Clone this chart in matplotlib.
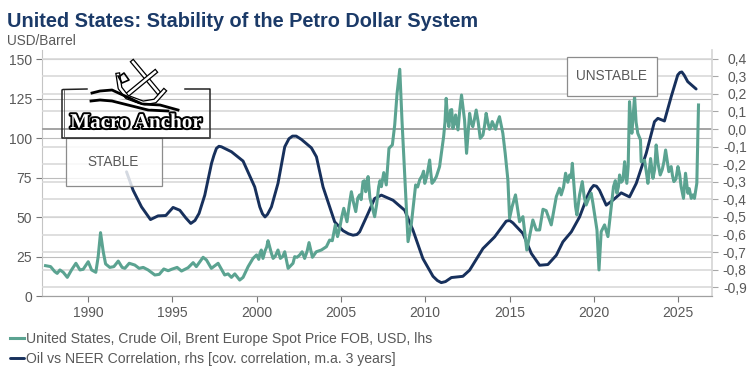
import matplotlib
matplotlib.use('Agg')
import matplotlib.pyplot as plt
import matplotlib.patheffects as pe
from matplotlib.patches import Rectangle

plt.rcParams['font.family'] = ['Liberation Sans', 'DejaVu Sans']

title = 'United States: Stability of the Petro Dollar System'
unit_label = 'USD/Barrel'
oil_label = 'United States, Crude Oil, Brent Europe Spot Price FOB, USD, lhs'
corr_label = 'Oil vs NEER Correlation, rhs [cov. correlation, m.a. 3 years]'

x_ticks = [1990, 1995, 2000, 2005, 2010, 2015, 2020, 2025]
left_ticks = [0, 25, 50, 75, 100, 125, 150]
right_ticks = [-0.9, -0.8, -0.7, -0.6, -0.5, -0.4, -0.3, -0.2, -0.1, 0.0, 0.1, 0.2, 0.3, 0.4]
right_labels = ['-0,9', '-0,8', '-0,7', '-0,6', '-0,5', '-0,4', '-0,3', '-0,2', '-0,1', '0,0', '0,1', '0,2', '0,3', '0,4']

# brent
oil_years = [1987.49, 1987.79, 1988.04, 1988.18, 1988.34, 1988.54, 1988.78, 1989.03, 1989.29, 1989.53,
             1989.72, 1990.02, 1990.22, 1990.47, 1990.61, 1990.75, 1990.91, 1991.05, 1991.30, 1991.54,
             1991.80, 1992.03, 1992.19, 1992.45, 1992.78, 1993.04, 1993.28, 1993.57, 1993.97, 1994.23,
             1994.50, 1994.76, 1994.96, 1995.29, 1995.55, 1995.94, 1996.24, 1996.43, 1996.83, 1997.03,
             1997.32, 1997.72, 1998.11, 1998.31, 1998.51, 1998.71, 1999.00, 1999.20, 1999.50, 1999.79,
             2000.00, 2000.13, 2000.28, 2000.38, 2000.68, 2000.88, 2000.98, 2001.27, 2001.41, 2001.67,
             2001.87, 2002.16, 2002.26, 2002.56, 2002.85, 2003.11, 2003.31, 2003.54, 2003.84, 2004.14,
             2004.33, 2004.49, 2004.67, 2004.80, 2004.93, 2005.17, 2005.36, 2005.62, 2005.88, 2006.11,
             2006.31, 2006.47, 2006.61, 2006.85, 2007.00, 2007.24, 2007.40, 2007.54, 2007.69, 2007.85,
             2008.05, 2008.19, 2008.33, 2008.49, 2008.62, 2008.78, 2008.98, 2009.18, 2009.43, 2009.67,
             2009.83, 2009.97, 2010.26, 2010.40, 2010.66, 2010.85, 2011.09, 2011.24, 2011.40, 2011.50,
             2011.64, 2011.80, 2011.94, 2012.15, 2012.33, 2012.45, 2012.63, 2012.82, 2013.02, 2013.26,
             2013.42, 2013.61, 2013.81, 2013.97, 2014.17, 2014.40, 2014.60, 2014.74, 2014.90, 2015.00,
             2015.15, 2015.35, 2015.59, 2015.79, 2016.02, 2016.38, 2016.58, 2016.78, 2016.98, 2017.17,
             2017.47, 2017.77, 2017.96, 2018.06, 2018.32, 2018.56, 2018.72, 2018.91, 2018.99, 2019.31,
             2019.54, 2019.84, 2019.94, 2020.18, 2020.30, 2020.43, 2020.63, 2020.83, 2021.03, 2021.16,
             2021.36, 2021.52, 2021.72, 2021.82, 2021.95, 2022.11, 2022.25, 2022.41, 2022.60, 2022.76,
             2022.80, 2023.00, 2023.20, 2023.36, 2023.50, 2023.69, 2023.93, 2024.25, 2024.44, 2024.58,
             2024.74, 2024.98, 2025.17, 2025.31, 2025.43, 2025.57, 2025.77, 2025.96, 2026.10, 2026.20]
oil_values = [19.2, 18.6, 15.4, 14.3, 16.5, 15.0, 11.8, 16.5, 20.7, 16.5,
              16.9, 21.7, 16.5, 15.0, 24.9, 40.1, 28.0, 20.3, 18.1, 18.6,
              22.1, 18.1, 17.5, 20.7, 19.6, 17.5, 18.1, 16.5, 13.3, 13.7,
              17.1, 16.0, 16.9, 18.1, 15.8, 17.9, 21.1, 18.6, 24.5, 22.8,
              17.5, 20.7, 13.3, 14.0, 11.8, 14.0, 10.1, 11.8, 18.6, 23.8,
              26.0, 23.2, 29.1, 23.8, 35.0, 27.0, 23.8, 29.1, 23.8, 28.0,
              17.5, 20.7, 24.9, 26.0, 23.8, 33.8, 24.5, 28.0, 29.1, 31.2,
              35.4, 35.0, 45.0, 37.6, 42.9, 55.5, 47.0, 66.0, 53.4, 64.0,
              72.4, 66.0, 75.6, 56.6, 50.2, 69.2, 69.2, 78.1, 70.3, 93.5,
              95.6, 108.3, 128.3, 143.5, 111.4, 77.7, 34.4, 46.0, 70.3, 73.5,
              76.6, 71.3, 86.1, 71.3, 75.6, 81.9, 100.9, 125.1, 107.2, 117.7,
              106.1, 114.6, 105.1, 127.2, 111.4, 90.3, 115.6, 107.2, 117.7, 99.8,
              101.9, 115.6, 105.5, 110.4, 105.5, 113.5, 103.0, 90.3, 73.4, 49.2,
              56.6, 64.0, 47.0, 50.2, 29.1, 48.1, 41.8, 41.8, 54.9, 54.0,
              45.0, 62.9, 68.2, 64.0, 77.7, 76.6, 84.0, 56.6, 51.3, 72.4,
              57.6, 65.0, 58.7, 41.8, 16.5, 40.7, 45.0, 37.6, 56.6, 69.2,
              65.0, 76.6, 73.4, 85.0, 71.3, 123.0, 103.0, 126.2, 103.0, 98.8,
              85.0, 86.0, 71.3, 87.0, 74.5, 95.6, 76.6, 92.4, 78.7, 81.9,
              72.4, 81.9, 69.2, 61.8, 77.7, 65.0, 61.8, 61.8, 71.3, 120.9]

# smaller swings between the turning points above
oil_extra_years = [2000.20, 2000.50, 2000.60, 2001.10, 2001.55, 2002.40, 2002.70, 2003.00, 2005.05, 2005.50,
                   2005.75, 2006.00, 2006.20, 2006.40, 2006.55, 2006.72, 2007.12, 2007.32, 2007.62, 2009.55,
                   2009.90, 2010.10, 2010.33, 2010.53, 2011.17, 2011.32, 2011.45, 2011.57, 2011.72, 2011.87,
                   2012.05, 2012.72, 2012.92, 2013.14, 2013.52, 2013.71, 2013.89, 2014.07, 2014.28, 2018.20,
                   2018.45, 2018.65, 2019.15, 2019.42, 2019.70, 2021.27, 2021.45, 2021.62, 2022.03, 2022.18,
                   2022.33, 2022.50, 2023.10, 2023.28, 2023.60, 2023.80, 2024.05, 2024.15, 2024.35, 2024.66,
                   2024.86, 2025.08, 2025.65, 2025.87]
oil_extra_values = [27.0, 28.5, 31.0, 25.0, 25.0, 24.5, 28.0, 28.5, 50.0, 58.0,
                    59.0, 62.0, 61.0, 73.0, 70.0, 62.0, 58.0, 73.0, 74.0, 69.0,
                    79.0, 76.0, 78.0, 73.0, 110.0, 113.0, 112.0, 118.0, 109.0, 110.0,
                    118.0, 110.0, 112.0, 110.0, 108.0, 110.0, 107.0, 108.0, 110.0, 69.0,
                    72.0, 75.0, 64.0, 63.0, 62.0, 73.0, 69.0, 72.0, 82.0, 112.0,
                    115.0, 110.0, 79.0, 79.0, 80.0, 84.0, 80.0, 85.0, 85.0, 76.0,
                    74.0, 77.0, 68.0, 64.0]

corr_years = [1992.29, 1992.68, 1993.18, 1993.71, 1994.16, 1994.62, 1995.05, 1995.45, 1995.80, 1996.10,
              1996.35, 1996.59, 1996.93, 1997.33, 1997.47, 1997.62, 1997.77, 1997.92, 1998.51, 1999.20,
              1999.89, 2000.19, 2000.35, 2000.50, 2000.65, 2000.88, 2001.27, 2001.67, 2001.92, 2002.13,
              2002.35, 2002.66, 2003.25, 2003.55, 2003.94, 2004.63, 2005.12, 2005.45, 2005.72, 2005.95,
              2006.11, 2006.61, 2007.00, 2007.40, 2008.09, 2008.78, 2009.27, 2009.86, 2010.46, 2010.72,
              2010.95, 2011.20, 2011.55, 2012.23, 2012.63, 2013.42, 2014.11, 2014.80, 2015.00, 2015.20,
              2015.79, 2016.29, 2016.78, 2017.27, 2017.77, 2018.16, 2018.66, 2019.15, 2019.64, 2019.82,
              2019.98, 2020.15, 2020.33, 2020.73, 2021.12, 2021.62, 2022.11, 2022.51, 2023.10, 2023.59,
              2023.79, 2024.18, 2024.58, 2024.97, 2025.10, 2025.21, 2025.35, 2025.56, 2026.06]
corr_values = [-0.243, -0.348, -0.443, -0.515, -0.494, -0.492, -0.446, -0.462, -0.505, -0.537,
               -0.520, -0.480, -0.376, -0.195, -0.150, -0.110, -0.098, -0.101, -0.129, -0.182,
               -0.329, -0.443, -0.482, -0.500, -0.485, -0.443, -0.309, -0.101, -0.055, -0.040,
               -0.040, -0.059, -0.107, -0.158, -0.329, -0.528, -0.578, -0.596, -0.604, -0.600,
               -0.585, -0.480, -0.395, -0.376, -0.405, -0.462, -0.575, -0.737, -0.838, -0.862,
               -0.874, -0.868, -0.845, -0.838, -0.803, -0.680, -0.614, -0.524, -0.520, -0.534,
               -0.594, -0.708, -0.775, -0.771, -0.718, -0.642, -0.585, -0.500, -0.376, -0.340,
               -0.321, -0.325, -0.348, -0.433, -0.405, -0.363, -0.386, -0.309, -0.138, 0.042,
               0.061, 0.046, 0.184, 0.308, 0.322, 0.325, 0.307, 0.270, 0.228]

GREEN = '#5ba391'
NAVY = '#17305c'
TXT = '#595959'
W, H = 756, 380

fig = plt.figure(figsize=(W / 100, H / 100), dpi=100)
pos = [41.5 / W, 1 - 296 / H, (712 - 41.5) / W, 246 / H]

# lhs axis holds the grid, rhs the navy line, oil goes in its own layer on top
ax = fig.add_axes(pos)
ax.set_xlim(1987.25, 2027.0)
ax.set_ylim(0, 155.7)
ax.set_xticks(x_ticks)
ax.set_yticks(left_ticks)
ax.grid(axis='y', color='#bdbdbd', lw=0.8)
ax.set_axisbelow(True)
ax.tick_params(axis='x', length=4.3, width=0.8, color='#777777', labelcolor=TXT, labelsize=10, pad=3)
ax.tick_params(axis='y', length=4, width=0.8, color='#777777', labelcolor=TXT, labelsize=10, pad=3)
for side in ['top', 'right']:
    ax.spines[side].set_visible(False)
ax.spines['left'].set_color('#c4c4c4')
ax.spines['bottom'].set_color('#a0a0a0')

ax2 = ax.twinx()
ax2.set_ylim(-0.95, 0.45)
ax2.set_yticks(right_ticks)
ax2.set_yticklabels(right_labels, ha='right')
ax2.grid(axis='y', color='#d9d9d9', lw=1.2)
ax2.set_axisbelow(True)
ax2.tick_params(axis='y', length=4.3, width=0.8, color='#a8a8a8', labelcolor=TXT, labelsize=10, pad=20.7)
for side in ['top', 'left']:
    ax2.spines[side].set_visible(False)
ax2.spines['right'].set_color('#d4d4d4')
ax2.spines['right'].set_linewidth(1.2)
ax2.spines['bottom'].set_color('#a0a0a0')
ax2.axhline(0, color='#9a9a9a', lw=1.2, zorder=1.5)
corr_line, = ax2.plot(corr_years, corr_values, color=NAVY, lw=2.1, solid_joinstyle='round', solid_capstyle='round', zorder=3, label=corr_label)

oil_points = sorted(zip(oil_years + oil_extra_years, oil_values + oil_extra_values))
ax3 = fig.add_axes(pos, sharex=ax, sharey=ax)
ax3.patch.set_visible(False)
ax3.axis('off')
oil_line, = ax3.plot([p[0] for p in oil_points], [p[1] for p in oil_points], color=GREEN, lw=2.2, solid_joinstyle='round', zorder=3, label=oil_label)

fig.text(7 / W, 1 - 27 / H, title, fontsize=14.3, fontweight='bold', color='#1b3a68')
fig.text(6.5 / W, 1 - 45 / H, unit_label, fontsize=9.85, color=TXT)

fig.legend(handles=[oil_line, corr_line], loc='lower left', bbox_to_anchor=(10 / W, 14 / H), frameon=False,
           fontsize=10.05, labelcolor=TXT, handlelength=1.0, handletextpad=0.15, labelspacing=0.42, borderpad=0, borderaxespad=0)

# overlay in pixels for boxes and the logo
ov = fig.add_axes([0, 0, 1, 1], zorder=10)
ov.set_xlim(0, W)
ov.set_ylim(H, 0)
ov.axis('off')
ov.patch.set_visible(False)

ov.add_patch(Rectangle((66, 138), 95.5, 48, fc='white', alpha=0.82, ec='none'))
ov.add_patch(Rectangle((66, 138), 95.5, 48, fc='none', ec='#8c8c8c', lw=0.9))
ov.text(113.3, 162.3, 'STABLE', ha='center', va='center', fontsize=9.8, color=TXT)
ov.add_patch(Rectangle((566.7, 56.7), 90, 39.3, fc='white', ec='#8c8c8c', lw=0.9))
ov.text(611.7, 76, 'UNSTABLE', ha='center', va='center', fontsize=9.8, color=TXT)

# logo frame
ov.plot([87, 63, 62, 62, 210, 210, 210, 185], [89, 89.5, 90, 138, 138, 90, 89, 89], color='#222222', lw=1.1)
ov.plot([63.5, 63.5], [90, 137], color='#555555', lw=0.6)
ov.plot([208.5, 208.5], [90, 137], color='#555555', lw=0.6)

# anchor, rough sketch
halo = [pe.withStroke(linewidth=3.6, foreground='black')]
for xs, ys in [([133, 158], [62, 92]), ([155, 127], [72, 95]),
               ([118, 120, 127, 143, 155, 164], [75, 88, 97, 103, 101, 91])]:
    ov.plot(xs, ys, color='white', lw=1.8, path_effects=halo)
ov.plot([120, 124, 129, 122, 118], [76, 73, 80, 83, 76], color='black', lw=1.2)
ov.plot([92, 100, 112, 125, 142, 160, 178], [93, 91, 90, 96, 104, 105, 110], color='black', lw=2.0)
ov.plot([91, 100, 112, 128, 148, 168], [101, 100, 101, 105, 110, 111], color='black', lw=2.0)
ov.plot([100, 125, 150], [96, 101, 108], color='white', lw=0.8)

ov.text(136, 123, 'Macro Anchor', ha='center', va='center', fontsize=15.2, fontweight='bold',
        family='Liberation Serif', color='white',
        path_effects=[pe.withStroke(linewidth=2.8, foreground='black')])

fig.savefig('out.png', dpi=100)
